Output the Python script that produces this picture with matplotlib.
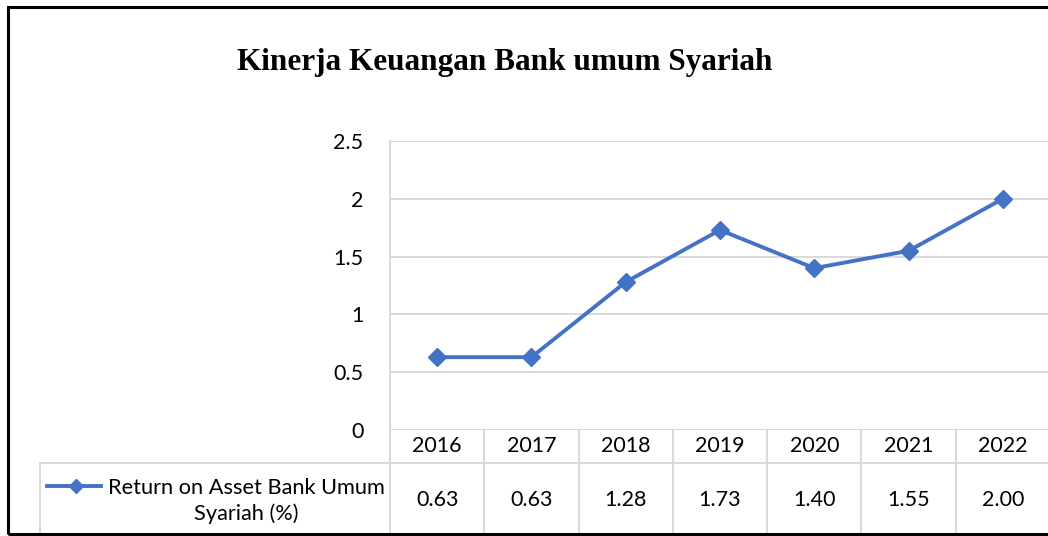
import matplotlib.pyplot as plt
import matplotlib.transforms as mtransforms
from matplotlib.lines import Line2D
from matplotlib.patches import Rectangle

# data
years = ['2016', '2017', '2018', '2019', '2020', '2021', '2022']
roa = [0.63, 0.63, 1.28, 1.73, 1.40, 1.55, 2.00]
y_ticks = [0, 0.5, 1, 1.5, 2, 2.5]
y_labels = ['0', '0.5', '1', '1.5', '2', '2.5']
series_name = 'Return on Asset Bank Umum\nSyariah (%)'
title = 'Kinerja Keuangan Bank umum Syariah'

blue = '#4472C4'
grey = '#D9D9D9'
W, H = 1048, 536

plt.rcParams['font.family'] = ['Lato', 'DejaVu Sans']

fig = plt.figure(figsize=(W / 100, H / 100), dpi=100)
ax = fig.add_axes([390 / W, 106 / H, 660 / W, 289 / H])

x = list(range(len(years)))
ax.plot(x, roa, color=blue, lw=2.8, marker='D', ms=9, zorder=3, clip_on=False)
ax.set_xlim(-0.5, len(years) - 0.5)
ax.set_ylim(0, 2.5)
ax.set_yticks(y_ticks)
ax.set_yticklabels(y_labels)
ax.yaxis.grid(True, color=grey, lw=1.4)
ax.set_axisbelow(True)
ax.tick_params(axis='y', length=0, pad=19, labelsize=15.5, labelcolor='black')
ax.set_xticks([])
for s in ax.spines.values():
    s.set_visible(False)

# data table under the plot (x in data units, y in axes units)
tr = mtransforms.blended_transform_factory(ax.transData, ax.transAxes)
row1 = -33 / 289
row2 = -106 / 289
leg_left = -0.5 - 350 / 94.3

ax.plot([-0.5, -0.5], [1, row2], color=grey, lw=1.4, transform=tr, clip_on=False)
for i in range(1, len(years) + 1):
    ax.plot([i - 0.5, i - 0.5], [0, row2], color=grey, lw=1.4, transform=tr, clip_on=False)
ax.plot([leg_left, len(years) - 0.5], [row1, row1], color=grey, lw=1.4, transform=tr, clip_on=False)
ax.plot([leg_left, leg_left], [row1, row2], color=grey, lw=1.4, transform=tr, clip_on=False)

for i, (yr, v) in enumerate(zip(years, roa)):
    ax.text(i, row1 / 2, yr, transform=tr, ha='center', va='center', fontsize=15.5)
    ax.text(i, (row1 + row2) / 2, f'{v:.2f}', transform=tr, ha='center', va='center', fontsize=15.5)

ax.text(-0.5 - 5 / 94.3, (row1 + row2) / 2 - 0.005, series_name, transform=tr, ha='right', va='center',
        multialignment='center', fontsize=15.7, linespacing=1.35)

# legend key inside the table
ky = 1 - 486 / H
fig.add_artist(Line2D([47 / W, 101 / W], [ky, ky], color=blue, lw=2.8))
fig.add_artist(Line2D([76 / W], [ky], color=blue, marker='D', ms=7))

fig.text(505 / W, 1 - 62 / H, title, ha='center', va='center', fontsize=22.5,
         fontweight='bold', family='Liberation Serif')

# outer border of the chart
fig.add_artist(Rectangle((7.5 / W, 2.5 / H), 1.05, 1 - 9 / H, transform=fig.transFigure,
                         fill=False, edgecolor='black', lw=2.2))

fig.savefig('out.png', dpi=100, facecolor='white')
